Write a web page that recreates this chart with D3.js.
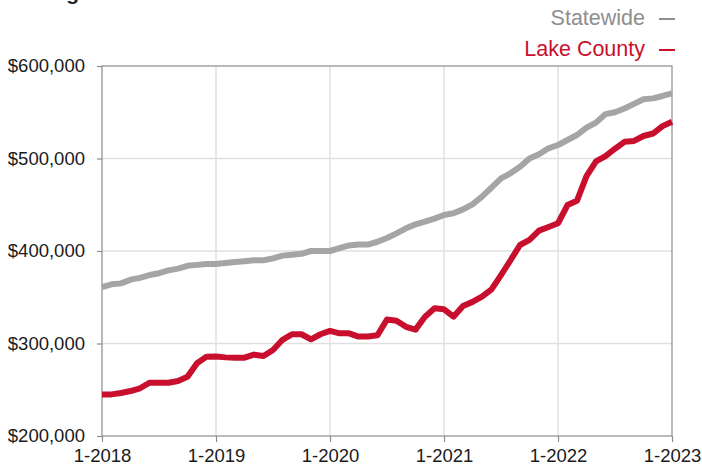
<!DOCTYPE html>
<html>
<head>
<meta charset="utf-8">
<script src="https://cdn.jsdelivr.net/npm/d3@7"></script>
<style>
  body { margin: 0; background: #fff; }
  svg { display: block; font-family: "Liberation Sans", Arial, sans-serif; }
</style>
</head>
<body>
<svg id="chart" width="702" height="466"></svg>
<script>
// monthly values, 1-2018 .. 1-2023
const months = d3.range(61);
const statewide = [
  361000, 364000, 365000, 369000, 371000, 374000, 376000, 379000, 381000, 384000, 385000, 386000,
  386000, 387000, 388000, 389000, 390000, 390000, 392000, 395000, 396000, 397000, 400000, 400000,
  400000, 403000, 406000, 407000, 407000, 410000, 414000, 419000, 424500, 428800, 431700, 435000,
  439000, 440800, 445000, 450500, 458700, 468500, 478600, 484000, 491000, 500000, 504500, 511000,
  514600, 520000, 525400, 533400, 538800, 548000, 550000, 554000, 559000, 564000, 565000, 567600,
  570500
];
const lakeCounty = [
  245000, 245000, 246500, 248600, 251600, 257600, 257600, 257600, 259500, 264000, 278600, 285800,
  286000, 285000, 284700, 284700, 288000, 286500, 293000, 304000, 310000, 310000, 304500, 310000,
  313600, 311000, 311000, 307500, 307500, 309000, 326000, 324600, 318000, 315000, 329000, 338000,
  337000, 329000, 340600, 345000, 350600, 358600, 374000, 390000, 406500, 412000, 422000, 426000,
  430000, 449700, 454400, 481000, 497000, 502700, 510600, 518000, 519000, 524300, 527000, 535000,
  539800
];
const yTicks = [200000, 300000, 400000, 500000, 600000];
const xTicks = [0, 12, 24, 36, 48, 60];
const xTickLabels = ["1-2018", "1-2019", "1-2020", "1-2021", "1-2022", "1-2023"];
const seriesNames = ["Statewide", "Lake County"];
const seriesColors = ["#a5a5a5", "#c8102e"];

const LEFT = 102, RIGHT = 672, TOP = 66, BOTTOM = 436;
const svg = d3.select("#chart");

const x = d3.scaleLinear().domain([0, 60]).range([LEFT, RIGHT]);
const y = d3.scaleLinear().domain([200000, 600000]).range([BOTTOM, TOP]);

// title, cut off at the top edge as in the source
svg.append("text")
    .attr("x", 8)
    .attr("y", 0)
    .attr("font-size", 21)
    .attr("font-weight", "bold")
    .attr("fill", "#222")
    .text("Rolling 12-Month Calculation");

// grid
const g = svg.append("g");
g.selectAll(".hgrid")
    .data(yTicks.slice(1, -1))
    .join("line")
    .attr("x1", LEFT).attr("x2", RIGHT)
    .attr("y1", d => y(d)).attr("y2", d => y(d))
    .attr("stroke", "#e0e0e0")
    .attr("stroke-width", 1.5);
g.selectAll(".vgrid")
    .data(xTicks.slice(1, -1))
    .join("line")
    .attr("x1", d => x(d)).attr("x2", d => x(d))
    .attr("y1", TOP).attr("y2", BOTTOM)
    .attr("stroke", "#e0e0e0")
    .attr("stroke-width", 1.5);

// frame
g.append("rect")
    .attr("x", LEFT).attr("y", TOP)
    .attr("width", RIGHT - LEFT).attr("height", BOTTOM - TOP)
    .attr("fill", "none")
    .attr("stroke", "#8c8c8c")
    .attr("stroke-width", 1.2);

// axes
const yAxis = d3.axisLeft(y)
    .tickValues(yTicks)
    .tickSize(5)
    .tickPadding(12)
    .tickFormat(d => "$" + d3.format(",")(d));
const xAxis = d3.axisBottom(x)
    .tickValues(xTicks)
    .tickSize(6)
    .tickPadding(7)
    .tickFormat((d, i) => xTickLabels[i]);

svg.append("g")
    .attr("transform", `translate(${LEFT},0)`)
    .call(yAxis)
    .call(a => a.select(".domain").remove())
    .call(a => a.selectAll("line").attr("stroke", "#8c8c8c").attr("stroke-width", 1.2))
    .call(a => a.selectAll("text").attr("font-size", 18.5).attr("fill", "#1a1a1a")
        .attr("font-family", "Liberation Sans, Arial, sans-serif"));

svg.append("g")
    .attr("transform", `translate(0,${BOTTOM})`)
    .call(xAxis)
    .call(a => a.select(".domain").remove())
    .call(a => a.selectAll("line").attr("stroke", "#8c8c8c").attr("stroke-width", 1.2))
    .call(a => a.selectAll("text").attr("font-size", 18.5).attr("fill", "#1a1a1a")
        .attr("font-family", "Liberation Sans, Arial, sans-serif"));

// lines
const line = d3.line()
    .x((d, i) => x(months[i]))
    .y(d => y(d));

[statewide, lakeCounty].forEach((vals, k) => {
    svg.append("path")
        .attr("d", line(vals))
        .attr("fill", "none")
        .attr("stroke", seriesColors[k])
        .attr("stroke-width", 6)
        .attr("stroke-linejoin", "round");
});

// legend
seriesNames.forEach((name, k) => {
    let ly = 25 + k * 31;
    svg.append("text")
        .attr("x", 645)
        .attr("y", ly)
        .attr("text-anchor", "end")
        .attr("font-size", 21.5)
        .attr("fill", k === 0 ? "#8e8e8e" : seriesColors[k])
        .text(name);
    svg.append("line")
        .attr("x1", 659).attr("x2", 675)
        .attr("y1", ly - 6).attr("y2", ly - 6)
        .attr("stroke", k === 0 ? "#8e8e8e" : seriesColors[k])
        .attr("stroke-width", 2);
});
</script>
</body>
</html>
